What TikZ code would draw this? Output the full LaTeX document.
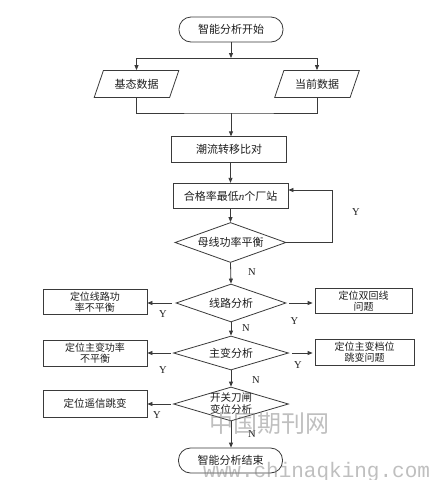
\documentclass[tikz,border=0pt]{standalone}
\usepackage{fontspec}
\setmainfont{Liberation Serif}
\newfontfamily\cjk{Noto Sans CJK SC}
\newfontfamily\wmmono{Liberation Mono}
\usetikzlibrary{shapes.geometric,arrows.meta}
\definecolor{ln}{HTML}{3A3A3A}
\definecolor{tx}{HTML}{1E1E1E}
\tikzset{
  base/.style={draw=ln, line width=0.8pt, text=tx, inner sep=0pt, align=center,
    font=\cjk\fontsize{11}{12}\selectfont},
  term/.style={base, rectangle, rounded corners=12pt, minimum width=104pt, minimum height=25pt},
  io/.style={base, trapezium, trapezium left angle=59, trapezium right angle=121,
    minimum width=85pt, minimum height=27pt, trapezium stretches=true},
  proc/.style={base, rectangle, minimum width=115pt, minimum height=25.5pt},
  side/.style={base, rectangle, minimum width=104pt, minimum height=25.5pt,
    font=\cjk\fontsize{10}{11}\selectfont},
  dec/.style={base, diamond, aspect=3},
  dtxt/.style={text=tx, align=center, inner sep=0pt, font=\cjk\fontsize{10.5}{12}\selectfont},
  yn/.style={text=tx, inner sep=0pt, font=\fontsize{10.5}{12}\selectfont},
  arr/.style={draw=ln, line width=0.8pt, -{Triangle[length=5pt,width=4pt]}},
  ln/.style={draw=ln, line width=0.8pt},
  wm/.style={text=gray, opacity=0.5, inner sep=0pt}
}
\begin{document}
\begin{tikzpicture}[x=1pt,y=-1pt]
\useasboundingbox[fill=white] (0,0) rectangle (435,480);

\node[term] (start) at (231,29.5) {智能分析开始};
\node[io] (basedata) at (136.5,84) {基态数据};
\node[io] (curdata) at (317,84) {当前数据};
\node[proc] (flow) at (229,149.5) {潮流转移比对};
\node[proc] (sel) at (230.5,196) {合格率最低{\normalfont\itshape n}个厂站};
\node[dec, minimum width=111pt, minimum height=40pt] (d1) at (230.5,242.5) {母线功率平衡};
\node[dec, minimum width=110pt, minimum height=38pt] (d2) at (231,303) {线路分析};
\node[dec, minimum width=115pt, minimum height=34pt] (d3) at (231,353) {主变分析};
\node[dec, minimum width=115pt, minimum height=34pt,
  label={[dtxt]center:开关刀闸\\变位分析}] (d4) at (231,404) {};
\node[term] (stop) at (230.5,460.5) {智能分析结束};

\node[side] (l1) at (95,302) {定位线路功\\率不平衡};
\node[side, minimum width=97pt] (r1) at (363.5,301) {定位双回线\\问题};
\node[side] (l2) at (95,353.5) {定位主变功率\\不平衡};
\node[side, minimum width=99pt] (r2) at (364.5,352.5) {定位主变档位\\跳变问题};
\node[side, minimum height=27pt, font=\cjk\fontsize{10.5}{12}\selectfont] (l3) at (95,403.5) {定位遥信跳变};

\coordinate (j1) at (231,58);
\coordinate (j2) at (231,113);
\coordinate (lp) at (332,0);

\draw[arr] (start.south) -- (j1);
\draw[arr] (j1) -| (basedata.north);
\draw[arr] (j1) -| (curdata.north);
\draw[ln] (basedata.south) |- (j2) -| (curdata.south);
\draw[arr] (j2) -- (j2 |- flow.north);
\draw[arr] (flow.south -| sel.north) -- (sel.north);
\draw[arr] (sel.south) -- (d1.north);
\draw[arr] (d1.east) -- (d1.east -| lp) |- ([yshift=6pt]sel.east);
\draw[arr] (d1.south) -- (d2.north);
\draw[arr] (d2.south) -- (d3.north);
\draw[arr] (d3.south) -- (d4.north);
\draw[arr] (d4.south) -- (d4.south |- stop.north);

\draw[arr, shorten <=4pt] (d2.west) -- (d2.west -| l1.east);
\draw[arr, shorten <=3pt] (d2.east) -- ([xshift=-2pt]d2.east -| r1.west);
\draw[arr, shorten <=2pt] (d3.west) -- (d3.west -| l2.east);
\draw[arr, shorten <=3pt] (d3.east) -- ([xshift=-2pt]d3.east -| r2.west);
\draw[arr, shorten <=2pt] (d4.west) -- (d4.west -| l3.east);

\node[yn] (y1) at (356,212.5) {Y};
\node[yn] (n1) at (252,272) {N};
\node[yn] (y2) at (163,314) {Y};
\node[yn] (y3) at (294.5,321) {Y};
\node[yn] (n2) at (246,328) {N};
\node[yn] (y4) at (163,370.5) {Y};
\node[yn] (y5) at (298,365) {Y};
\node[yn] (n3) at (256,380) {N};
\node[yn] (y6) at (157,415) {Y};
\node[yn] (n4) at (252,434) {N};

\node[wm, font=\cjk\fontsize{24}{24}\selectfont] (wm1) at (269,423) {中国期刊网};
\node[wm, anchor=base west, font=\wmmono\fontsize{21}{21}\selectfont] (wm2) at (203,477) {www.chinaqking.com};
\end{tikzpicture}
\end{document}
